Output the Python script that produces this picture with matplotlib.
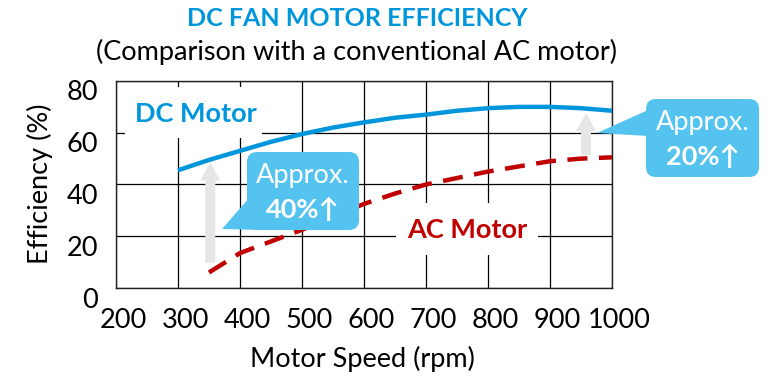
import matplotlib
matplotlib.use("Agg")
import matplotlib.pyplot as plt
import matplotlib.transforms as mtransforms
from matplotlib.patches import FancyBboxPatch, Polygon, FancyArrow, Rectangle

plt.rcParams['font.family'] = ['Lato', 'DejaVu Sans']

# Efficiency curves (%) versus motor speed (rpm)
dc_speed = [300, 350, 400, 450, 500, 550, 600, 650, 700, 750, 800, 850, 900, 950, 1000]
dc_eff = [45.5, 49.5, 53, 56.5, 59.5, 62, 64, 65.8, 67, 68.5, 69.5, 70, 70, 69.5, 68.5]
ac_speed = [350, 400, 450, 500, 550, 600, 650, 700, 750, 800, 850, 900, 950, 1000]
ac_eff = [6, 13.5, 18, 22.5, 27.5, 32.5, 36.5, 40, 42.5, 45, 47, 49, 50, 50.5]

x_ticks = [200, 300, 400, 500, 600, 700, 800, 900, 1000]
y_ticks = [0, 20, 40, 60, 80]

# Improvement arrows: (speed, from efficiency, to efficiency)
gain_low = (352, 9.8, 48.5)
gain_high = (958, 51.4, 67.6)

W, H = 779, 378
BLUE = '#0096DB'
RED = '#C00000'
CALLOUT = '#55C3EF'
GREY = '#E6E6E6'
FS = 19.5

fig = plt.figure(figsize=(W / 100, H / 100), dpi=100)
ax = fig.add_axes([116 / W, (H - 288) / H, 496 / W, 207 / H])
ax.set_xlim(200, 1000)
ax.set_ylim(0, 80)
ax.set_xticks(x_ticks)
ax.set_yticks(y_ticks)
ax.grid(True, color='black', lw=0.9)
ax.set_axisbelow(True)
for s in ax.spines.values():
    s.set_color('#222222')
    s.set_linewidth(1.0)
ax.tick_params(length=0, labelbottom=False, labelleft=False)

# tick labels, nudged off their grid lines
px = 1 / 100
x_lab_tr = mtransforms.blended_transform_factory(ax.transData, ax.transAxes) + \
    mtransforms.ScaledTranslation(7 * px, -33 * px, fig.dpi_scale_trans)
for xv in x_ticks:
    ax.text(xv, 0, str(xv), transform=x_lab_tr, ha='center', va='center', fontsize=FS)
y_lab_tr = mtransforms.blended_transform_factory(ax.transAxes, ax.transData) + \
    mtransforms.ScaledTranslation(-18 * px, -12 * px, fig.dpi_scale_trans)
for yv in y_ticks:
    ax.text(0, yv, str(yv), transform=y_lab_tr, ha='right', va='center', fontsize=FS)

fig.text(362, H - 359, 'Motor Speed (rpm)', transform=None, ha='center', va='center', fontsize=FS)
fig.text(40, H - 184, 'Efficiency (%)', transform=None, ha='center', va='center', fontsize=FS,
         rotation=90)

ax.plot(dc_speed, dc_eff, color=BLUE, lw=3.2, solid_capstyle='butt', zorder=4)
ax.plot(ac_speed, ac_eff, color=RED, lw=3.2, dashes=(4.5, 2.6), zorder=4)

# white panels behind the series names hide the grid there
ident = mtransforms.IdentityTransform()
ax.add_patch(Rectangle((125, H - 138), 137, 51, facecolor='white', edgecolor='none',
                       transform=ident, zorder=2))
ax.add_patch(Rectangle((396, H - 255), 142, 52, facecolor='white', edgecolor='none',
                       transform=ident, zorder=2))
ax.text(196, H - 114, 'DC Motor', transform=ident, ha='center', va='center',
        fontsize=FS, fontweight='bold', color=BLUE, zorder=3)
ax.text(467, H - 230, 'AC Motor', transform=ident, ha='center', va='center',
        fontsize=FS, fontweight='bold', color=RED, zorder=3)

fig.canvas.draw()
to_disp = ax.transData


def gain_arrow(spec):
    x, y0, y1 = spec
    (ax_px, py0) = to_disp.transform((x, y0))
    (_, py1) = to_disp.transform((x, y1))
    arr = FancyArrow(ax_px, py0, 0, py1 - py0, width=10, head_width=20, head_length=18,
                     length_includes_head=True, color=GREY, lw=0, transform=None, zorder=3)
    fig.add_artist(arr)


gain_arrow(gain_low)
gain_arrow(gain_high)


def callout(x0, y0, x1, y1, tail, line1, line2):
    box = FancyBboxPatch((x0, H - y1), x1 - x0, y1 - y0, boxstyle='round,pad=0,rounding_size=10',
                         facecolor=CALLOUT, edgecolor='none', transform=None, zorder=5)
    fig.add_artist(box)
    tri = Polygon([(tx, H - ty) for tx, ty in tail], closed=True, facecolor=CALLOUT,
                  edgecolor='none', transform=None, zorder=5)
    fig.add_artist(tri)
    cx = (x0 + x1) / 2
    fig.text(cx, H - (y0 + (y1 - y0) * 0.30), line1, transform=None, ha='center', va='center',
             fontsize=FS, color='white', zorder=6)
    fig.text(cx, H - (y0 + (y1 - y0) * 0.74), line2, transform=None, ha='center', va='center',
             fontsize=FS, fontweight='bold', color='white', zorder=6)


callout(247, 152, 359, 230, [(249, 198), (222, 229), (262, 230)], 'Approx.', '40%↑')
callout(646, 99, 759, 177, [(648, 110), (597, 133), (648, 136)], 'Approx.', '20%↑')

fig.text(357, H - 19, 'DC FAN MOTOR EFFICIENCY', transform=None, ha='center', va='center',
         fontsize=18, fontweight='bold', color=BLUE)
fig.text(357, H - 52, '(Comparison with a conventional AC motor)', transform=None, ha='center',
         va='center', fontsize=FS, color='black')

fig.savefig('out.png', dpi=100)
